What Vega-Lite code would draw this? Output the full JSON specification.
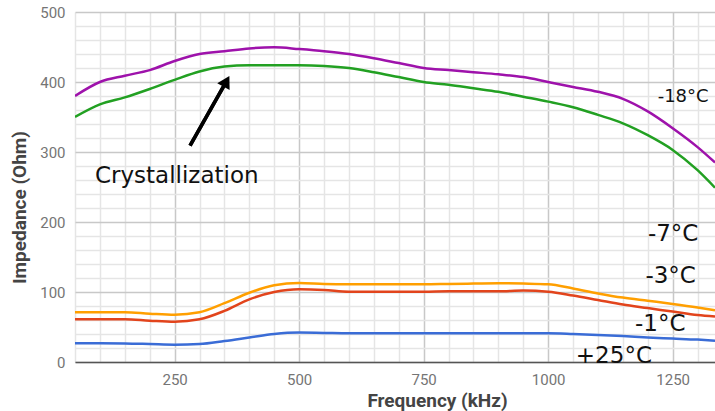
{
  "$schema": "https://vega.github.io/schema/vega-lite/v6.json",
  "width": 640,
  "height": 350,
  "autosize": {"type": "none"},
  "padding": {"left": 75, "top": 12, "right": 0, "bottom": 49},
  "background": "white",
  "config": {"view": {"stroke": null}, "font": "Roboto"},
  "datasets": {
    "curves": [
      {"f": 50, "z": 380, "s": "-18°C"}, {"f": 100, "z": 400, "s": "-18°C"}, {"f": 150, "z": 409, "s": "-18°C"}, {"f": 200, "z": 417, "s": "-18°C"}, {"f": 250, "z": 430, "s": "-18°C"}, {"f": 300, "z": 440, "s": "-18°C"}, {"f": 350, "z": 444, "s": "-18°C"}, {"f": 400, "z": 448, "s": "-18°C"}, {"f": 450, "z": 449.5, "s": "-18°C"}, {"f": 500, "z": 447, "s": "-18°C"}, {"f": 550, "z": 444, "s": "-18°C"}, {"f": 600, "z": 440, "s": "-18°C"}, {"f": 650, "z": 434, "s": "-18°C"}, {"f": 700, "z": 427, "s": "-18°C"}, {"f": 750, "z": 420, "s": "-18°C"}, {"f": 800, "z": 417, "s": "-18°C"}, {"f": 850, "z": 414, "s": "-18°C"}, {"f": 900, "z": 411, "s": "-18°C"}, {"f": 950, "z": 407, "s": "-18°C"}, {"f": 1000, "z": 400, "s": "-18°C"}, {"f": 1050, "z": 393, "s": "-18°C"}, {"f": 1100, "z": 386, "s": "-18°C"}, {"f": 1150, "z": 376, "s": "-18°C"}, {"f": 1200, "z": 358, "s": "-18°C"}, {"f": 1250, "z": 334, "s": "-18°C"}, {"f": 1300, "z": 307, "s": "-18°C"}, {"f": 1335, "z": 285, "s": "-18°C"},
      {"f": 50, "z": 350, "s": "-7°C"}, {"f": 100, "z": 368, "s": "-7°C"}, {"f": 150, "z": 378, "s": "-7°C"}, {"f": 200, "z": 390, "s": "-7°C"}, {"f": 250, "z": 403, "s": "-7°C"}, {"f": 300, "z": 415, "s": "-7°C"}, {"f": 350, "z": 422, "s": "-7°C"}, {"f": 400, "z": 424, "s": "-7°C"}, {"f": 450, "z": 424, "s": "-7°C"}, {"f": 500, "z": 424, "s": "-7°C"}, {"f": 550, "z": 423, "s": "-7°C"}, {"f": 600, "z": 420, "s": "-7°C"}, {"f": 650, "z": 414, "s": "-7°C"}, {"f": 700, "z": 407, "s": "-7°C"}, {"f": 750, "z": 400, "s": "-7°C"}, {"f": 800, "z": 396, "s": "-7°C"}, {"f": 850, "z": 391, "s": "-7°C"}, {"f": 900, "z": 386, "s": "-7°C"}, {"f": 950, "z": 379, "s": "-7°C"}, {"f": 1000, "z": 372, "s": "-7°C"}, {"f": 1050, "z": 364, "s": "-7°C"}, {"f": 1100, "z": 353, "s": "-7°C"}, {"f": 1150, "z": 341, "s": "-7°C"}, {"f": 1200, "z": 324, "s": "-7°C"}, {"f": 1250, "z": 303, "s": "-7°C"}, {"f": 1300, "z": 274, "s": "-7°C"}, {"f": 1335, "z": 249, "s": "-7°C"},
      {"f": 50, "z": 71, "s": "-3°C"}, {"f": 100, "z": 71, "s": "-3°C"}, {"f": 150, "z": 71, "s": "-3°C"}, {"f": 200, "z": 69, "s": "-3°C"}, {"f": 250, "z": 67.5, "s": "-3°C"}, {"f": 300, "z": 71, "s": "-3°C"}, {"f": 350, "z": 84, "s": "-3°C"}, {"f": 400, "z": 99, "s": "-3°C"}, {"f": 450, "z": 109.5, "s": "-3°C"}, {"f": 500, "z": 113, "s": "-3°C"}, {"f": 550, "z": 111.5, "s": "-3°C"}, {"f": 600, "z": 111, "s": "-3°C"}, {"f": 650, "z": 111, "s": "-3°C"}, {"f": 700, "z": 111, "s": "-3°C"}, {"f": 750, "z": 111, "s": "-3°C"}, {"f": 800, "z": 111.5, "s": "-3°C"}, {"f": 850, "z": 112, "s": "-3°C"}, {"f": 900, "z": 112.5, "s": "-3°C"}, {"f": 950, "z": 112, "s": "-3°C"}, {"f": 1000, "z": 111, "s": "-3°C"}, {"f": 1050, "z": 105, "s": "-3°C"}, {"f": 1100, "z": 98, "s": "-3°C"}, {"f": 1150, "z": 92, "s": "-3°C"}, {"f": 1200, "z": 87.5, "s": "-3°C"}, {"f": 1250, "z": 83, "s": "-3°C"}, {"f": 1300, "z": 78, "s": "-3°C"}, {"f": 1335, "z": 74, "s": "-3°C"},
      {"f": 50, "z": 61, "s": "-1°C"}, {"f": 100, "z": 61, "s": "-1°C"}, {"f": 150, "z": 61, "s": "-1°C"}, {"f": 200, "z": 59, "s": "-1°C"}, {"f": 250, "z": 57.5, "s": "-1°C"}, {"f": 300, "z": 61, "s": "-1°C"}, {"f": 350, "z": 73, "s": "-1°C"}, {"f": 400, "z": 89.5, "s": "-1°C"}, {"f": 450, "z": 100, "s": "-1°C"}, {"f": 500, "z": 104, "s": "-1°C"}, {"f": 550, "z": 103, "s": "-1°C"}, {"f": 600, "z": 100.5, "s": "-1°C"}, {"f": 650, "z": 100.5, "s": "-1°C"}, {"f": 700, "z": 100.5, "s": "-1°C"}, {"f": 750, "z": 100.5, "s": "-1°C"}, {"f": 800, "z": 101, "s": "-1°C"}, {"f": 850, "z": 101, "s": "-1°C"}, {"f": 900, "z": 101, "s": "-1°C"}, {"f": 950, "z": 102, "s": "-1°C"}, {"f": 1000, "z": 100.5, "s": "-1°C"}, {"f": 1050, "z": 95, "s": "-1°C"}, {"f": 1100, "z": 88.5, "s": "-1°C"}, {"f": 1150, "z": 82, "s": "-1°C"}, {"f": 1200, "z": 77, "s": "-1°C"}, {"f": 1250, "z": 72, "s": "-1°C"}, {"f": 1300, "z": 67, "s": "-1°C"}, {"f": 1335, "z": 65, "s": "-1°C"},
      {"f": 50, "z": 26.7, "s": "+25°C"}, {"f": 100, "z": 26.7, "s": "+25°C"}, {"f": 150, "z": 26.5, "s": "+25°C"}, {"f": 200, "z": 25.7, "s": "+25°C"}, {"f": 250, "z": 24.8, "s": "+25°C"}, {"f": 300, "z": 25.7, "s": "+25°C"}, {"f": 350, "z": 30, "s": "+25°C"}, {"f": 400, "z": 35, "s": "+25°C"}, {"f": 450, "z": 40, "s": "+25°C"}, {"f": 500, "z": 42, "s": "+25°C"}, {"f": 550, "z": 41.5, "s": "+25°C"}, {"f": 600, "z": 41, "s": "+25°C"}, {"f": 650, "z": 41, "s": "+25°C"}, {"f": 700, "z": 41, "s": "+25°C"}, {"f": 750, "z": 41, "s": "+25°C"}, {"f": 800, "z": 41, "s": "+25°C"}, {"f": 850, "z": 41, "s": "+25°C"}, {"f": 900, "z": 41, "s": "+25°C"}, {"f": 950, "z": 41, "s": "+25°C"}, {"f": 1000, "z": 41, "s": "+25°C"}, {"f": 1050, "z": 40, "s": "+25°C"}, {"f": 1100, "z": 38.6, "s": "+25°C"}, {"f": 1150, "z": 37, "s": "+25°C"}, {"f": 1200, "z": 35, "s": "+25°C"}, {"f": 1250, "z": 33.5, "s": "+25°C"}, {"f": 1300, "z": 32, "s": "+25°C"}, {"f": 1335, "z": 30.5, "s": "+25°C"}
    ],
    "labels": [
      {"f": 90, "z": 255.7, "label": "Crystallization"},
      {"f": 1271, "z": 371, "label": "-18°C"},
      {"f": 1251, "z": 173, "label": "-7°C"},
      {"f": 1246, "z": 113, "label": "-3°C"},
      {"f": 1225, "z": 44, "label": "-1°C"},
      {"f": 1132, "z": -1.4, "label": "+25°C"}
    ],
    "arrow": [
      {"f": 281, "z": 309, "f2": 354, "z2": 401}
    ]
  },
  "resolve": {"axis": {"x": "independent", "y": "independent"}},
  "layer": [
    {
      "data": {"name": "arrow"},
      "mark": {"type": "rule", "color": "black", "strokeWidth": 3.5},
      "encoding": {
        "x": {
          "field": "f", "type": "quantitative",
          "scale": {"domain": [50, 1335], "nice": false, "zero": false},
          "axis": {
            "orient": "bottom",
            "values": [50, 100, 150, 200, 300, 350, 400, 450, 550, 600, 650, 700, 800, 850, 900, 950, 1050, 1100, 1150, 1200, 1300],
            "grid": true, "gridColor": "#e5e5e5", "gridWidth": 1.5,
            "labels": false, "ticks": false, "domain": false, "title": null
          }
        },
        "y": {
          "field": "z", "type": "quantitative",
          "scale": {"domain": [0, 500], "nice": false},
          "axis": {
            "orient": "left",
            "values": [20, 40, 60, 80, 120, 140, 160, 180, 220, 240, 260, 280, 320, 340, 360, 380, 420, 440, 460, 480],
            "grid": true, "gridColor": "#e5e5e5", "gridWidth": 1.5,
            "labels": false, "ticks": false, "domain": false, "title": null
          }
        },
        "x2": {"field": "f2"},
        "y2": {"field": "z2"}
      }
    },
    {
      "data": {"name": "curves"},
      "mark": {"type": "line", "interpolate": "monotone", "strokeWidth": 2.5, "clip": true},
      "encoding": {
        "x": {
          "field": "f", "type": "quantitative",
          "axis": {
            "orient": "bottom",
            "title": "Frequency (kHz)",
            "values": [250, 500, 750, 1000, 1250],
            "format": "d",
            "labelOverlap": false,
            "grid": true, "gridColor": "#c8c8c8", "gridWidth": 1.5,
            "ticks": false,
            "domain": true, "domainColor": "#555555", "domainWidth": 1.5,
            "labelFont": "Roboto", "labelFontSize": 15, "labelColor": "#757575", "labelPadding": 10,
            "labelFlush": false,
            "titleFont": "Roboto", "titleFontSize": 19, "titleFontWeight": "bold", "titleColor": "#444444",
            "titleBaseline": "alphabetic", "titleX": 362, "titleY": 44
          }
        },
        "y": {
          "field": "z", "type": "quantitative",
          "axis": {
            "orient": "left",
            "title": "Impedance (Ohm)",
            "values": [0, 100, 200, 300, 400, 500],
            "format": "d",
            "labelOverlap": false,
            "labelFlush": false,
            "grid": true, "gridColor": "#c8c8c8", "gridWidth": 1.5,
            "ticks": false,
            "domain": false,
            "labelFont": "Roboto", "labelFontSize": 15, "labelColor": "#757575", "labelPadding": 10,
            "titleFont": "Roboto", "titleFontSize": 19, "titleFontWeight": "bold", "titleColor": "#444444",
            "titlePadding": 10, "titleY": 195
          }
        },
        "color": {
          "field": "s", "type": "nominal",
          "scale": {"domain": ["-18°C", "-7°C", "-3°C", "-1°C", "+25°C"], "range": ["#9e12ab", "#22a022", "#ff9f00", "#e2441c", "#3a6cd6"]},
          "legend": null
        }
      }
    },
    {
      "data": {"name": "arrow"},
      "mark": {"type": "rule", "color": "black", "strokeWidth": 3.5},
      "encoding": {
        "x": {"field": "f", "type": "quantitative", "axis": null},
        "y": {"field": "z", "type": "quantitative", "axis": null},
        "x2": {"field": "f2"},
        "y2": {"field": "z2"}
      }
    },
    {
      "data": {"name": "arrow"},
      "mark": {"type": "point", "shape": "triangle-up", "filled": true, "color": "black", "opacity": 1, "size": 200, "angle": 29},
      "encoding": {
        "x": {"field": "f2", "type": "quantitative", "axis": null},
        "y": {"field": "z2", "type": "quantitative", "axis": null}
      }
    },
    {
      "data": {"name": "labels"},
      "transform": [{"filter": "datum.label === 'Crystallization'"}],
      "mark": {"type": "text", "align": "left", "baseline": "alphabetic", "font": "DejaVu Sans", "fontSize": 23, "color": "#111111"},
      "encoding": {
        "x": {"field": "f", "type": "quantitative", "axis": null},
        "y": {"field": "z", "type": "quantitative", "axis": null},
        "text": {"field": "label"}
      }
    },
    {
      "data": {"name": "labels"},
      "transform": [{"filter": "datum.label === '-18°C'"}],
      "mark": {"type": "text", "align": "center", "baseline": "alphabetic", "font": "DejaVu Sans", "fontSize": 18, "color": "#111111"},
      "encoding": {
        "x": {"field": "f", "type": "quantitative", "axis": null},
        "y": {"field": "z", "type": "quantitative", "axis": null},
        "text": {"field": "label"}
      }
    },
    {
      "data": {"name": "labels"},
      "transform": [{"filter": "datum.label !== '-18°C' && datum.label !== 'Crystallization'"}],
      "mark": {"type": "text", "align": "center", "baseline": "alphabetic", "font": "DejaVu Sans", "fontSize": 23, "color": "#111111"},
      "encoding": {
        "x": {"field": "f", "type": "quantitative", "axis": null},
        "y": {"field": "z", "type": "quantitative", "axis": null},
        "text": {"field": "label"}
      }
    }
  ]
}
